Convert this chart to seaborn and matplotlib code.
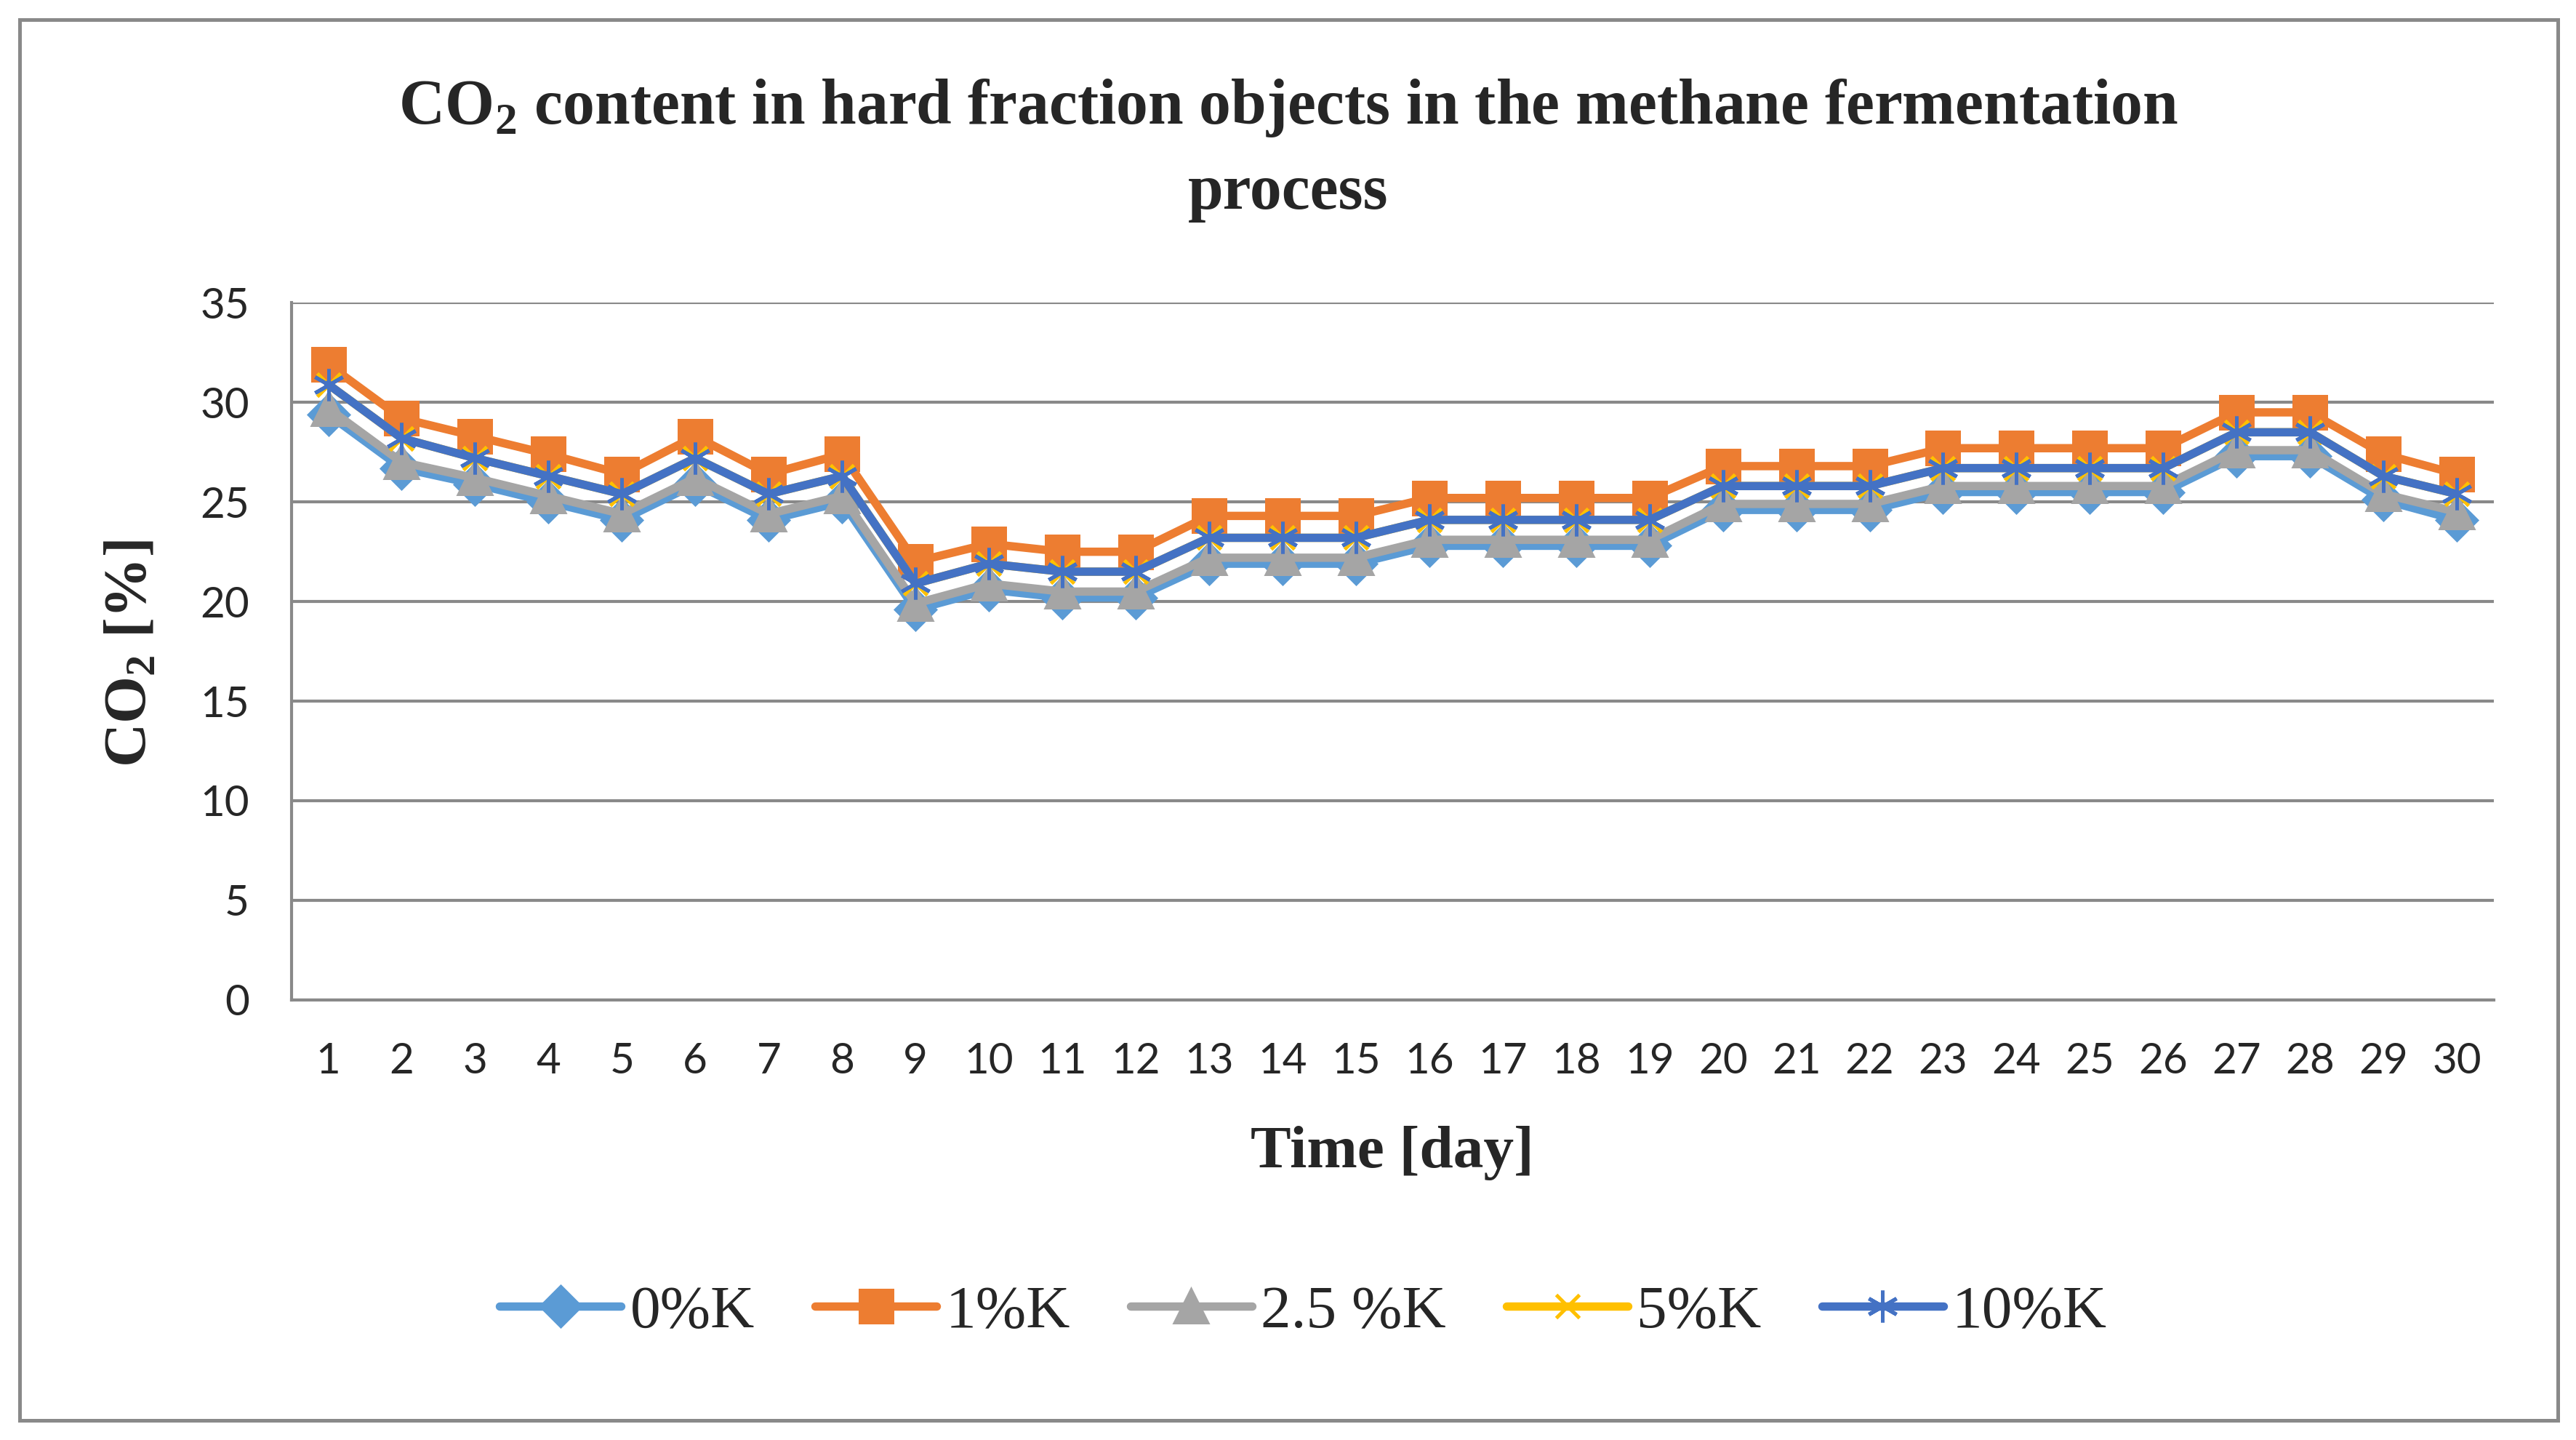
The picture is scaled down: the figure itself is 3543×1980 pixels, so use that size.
import pandas as pd
import numpy as np
import matplotlib
matplotlib.use('Agg')
import matplotlib.pyplot as plt
import seaborn as sns
from matplotlib.patches import Rectangle

# values
days = list(range(1, 31))
k0 = [29.4, 26.7, 25.9, 25.0, 24.1, 25.9, 24.1, 25.0, 19.6, 20.6, 20.2, 20.2, 21.9, 21.9, 21.9,
      22.8, 22.8, 22.8, 22.8, 24.6, 24.6, 24.6, 25.5, 25.5, 25.5, 25.5, 27.3, 27.3, 25.1, 24.1]
k1 = [31.9, 29.2, 28.3, 27.4, 26.4, 28.3, 26.4, 27.4, 22.0, 22.9, 22.5, 22.5, 24.3, 24.3, 24.3,
      25.2, 25.2, 25.2, 25.2, 26.8, 26.8, 26.8, 27.7, 27.7, 27.7, 27.7, 29.5, 29.5, 27.4, 26.4]
k25 = [29.7, 27.0, 26.2, 25.3, 24.4, 26.2, 24.4, 25.3, 19.9, 20.9, 20.5, 20.5, 22.2, 22.2, 22.2,
       23.1, 23.1, 23.1, 23.1, 24.9, 24.9, 24.9, 25.8, 25.8, 25.8, 25.8, 27.6, 27.6, 25.4, 24.5]
k5 = [30.9, 28.2, 27.2, 26.3, 25.4, 27.2, 25.4, 26.3, 20.9, 21.9, 21.5, 21.5, 23.2, 23.2, 23.2,
      24.1, 24.1, 24.1, 24.1, 25.8, 25.8, 25.8, 26.7, 26.7, 26.7, 26.7, 28.5, 28.5, 26.3, 25.4]
k10 = [30.9, 28.2, 27.2, 26.3, 25.4, 27.2, 25.4, 26.3, 20.9, 21.9, 21.5, 21.5, 23.2, 23.2, 23.2,
       24.1, 24.1, 24.1, 24.1, 25.8, 25.8, 25.8, 26.7, 26.7, 26.7, 26.7, 28.5, 28.5, 26.3, 25.4]
series = ['0%K', '1%K', '2.5 %K', '5%K', '10%K']
colors = ['#5B9BD5', '#ED7D31', '#A5A5A5', '#FFC000', '#4472C4']
marks = ['D', 's', '^', 'x', (6, 2, 0)]
msizes = [9, 10.5, 10.5, 7.5, 10.5]

df = pd.concat([pd.DataFrame({'day': days, 'co2': v, 'series': s})
                for s, v in zip(series, [k0, k1, k25, k5, k10])])

sns.set_style('white')
plt.rcParams['font.family'] = ['Liberation Serif', 'DejaVu Serif']
plt.rcParams['mathtext.fontset'] = 'custom'
plt.rcParams['mathtext.rm'] = 'Liberation Serif:bold'
plt.rcParams['mathtext.bf'] = 'Liberation Serif:bold'

fig = plt.figure(figsize=(3543 / 300, 1980 / 300), dpi=300)
ax = fig.add_axes([0.1132, 0.3057, 0.8548, 0.4840])

for s, c, m, ms in zip(series, colors, marks, msizes):
    sub = df[df['series'] == s]
    sns.lineplot(data=sub, x='day', y='co2', color=c, marker=m, lw=2.75,
                 markersize=ms, mec=c, mfc=c, mew=1.2, ax=ax, label=s, legend=False)

lines = ax.get_lines()[:5]

grid_c = '#898989'
ax.set_xlim(0.5, 30.5)
ax.set_ylim(0, 35)
ax.set_xticks(days)
ax.set_yticks(range(0, 36, 5))
ax.yaxis.grid(True, color=grid_c, lw=1.0)
ax.set_axisbelow(True)
for s in ['top', 'right']:
    ax.spines[s].set_visible(False)
for s in ['left', 'bottom']:
    ax.spines[s].set_color(grid_c)
    ax.spines[s].set_linewidth(1.0)
ax.tick_params(length=0, labelsize=14, pad=14)
for lab in ax.get_xticklabels() + ax.get_yticklabels():
    lab.set_fontfamily(['Lato', 'DejaVu Sans'])
ax.set_xlabel('')
ax.set_ylabel('')

fig.text(0.5, 0.925, r'CO$_\mathbf{2}$ content in hard fraction objects in the methane fermentation',
         ha='center', va='center', fontsize=21, fontweight='bold')
fig.text(0.5, 0.866, 'process', ha='center', va='center', fontsize=21, fontweight='bold')
fig.text(0.051, 0.546, r'CO$_\mathbf{2}$ [%]', rotation=90, ha='center', va='center',
         fontsize=20, fontweight='bold')
fig.text(0.5406, 0.199, 'Time [day]', ha='center', va='center', fontsize=20, fontweight='bold')

fig.legend(lines, series, loc='center', bbox_to_anchor=(0.506, 0.0885), ncol=5,
           frameon=False, fontsize=20, handlelength=2.0, handletextpad=0.15,
           columnspacing=1.0)

fig.patches.append(Rectangle((0.0077, 0.0138), 0.9853, 0.9724, transform=fig.transFigure,
                             fill=False, edgecolor=grid_c, lw=1.2))

fig.savefig('out.png', dpi=300, facecolor='white')
